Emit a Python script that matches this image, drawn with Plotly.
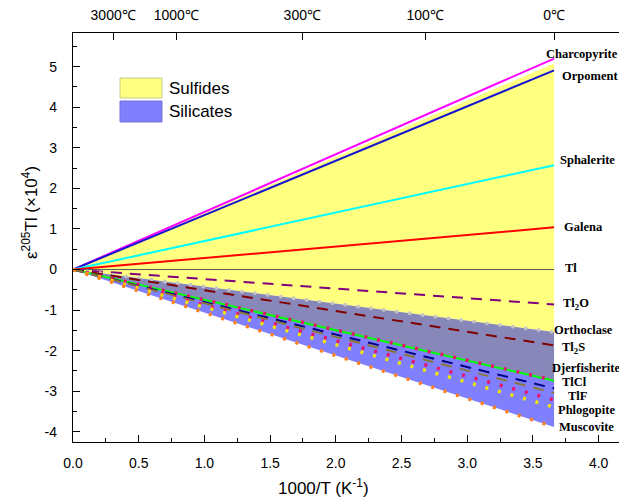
import plotly.graph_objects as go

# ---------------- data ----------------
T0C = 1000 / 273.15  # 1000/T at 0 degC, where every line ends

# line values (epsilon 205Tl x1e4) at 0 degC; every line starts at the origin
line_names = ["Charcopyrite", "Orpoment", "Sphalerite", "Galena", "Tl",
              "Tl2O", "Orthoclase", "Tl2S", "Djerfisherite", "Silicate pink 1",
              "TlCl", "TlF", "Silicate pink 2", "Phlogopite", "Muscovite"]
line_values = [5.20, 4.91, 2.57, 1.04, 0.0,
               -0.86, -1.54, -1.87, -2.74, -2.73,
               -2.93, -3.04, -3.21, -3.39, -3.88]
line_colors = ["#ff00ff", "#1414d2", "#00ffff", "#ff0000", "#555555",
               "#800080", "#c4c4c4", "#800000", "#00ff00", "#e8136f",
               "#000080", "#8a7638", "#e8136f", "#f2e600", "#ff7f1a"]
line_styles = ["solid", "solid", "solid", "solid", "thin",
               "dash", "dot", "dash", "solid", "dot",
               "dash", "dash", "dot", "dot", "dot"]

# shaded ranges at 0 degC
sulfide_top, sulfide_bottom = 5.08, -2.74
silicate_top, silicate_bottom = -1.54, -3.88

# right-hand labels
label_texts = ["Charcopyrite", "Orpoment", "Sphalerite", "Galena", "Tl",
               "Tl<sub>2</sub>O", "Orthoclase", "Tl<sub>2</sub>S", "Djerfisherite",
               "TlCl", "TlF", "Phlogopite", "Muscovite"]
label_y = [5.31, 4.77, 2.70, 1.05, 0.05, -0.86, -1.50, -1.93, -2.42,
           -2.77, -3.11, -3.46, -3.88]
label_x = [3.584, 3.706, 3.689, 3.724, 3.729, 3.712, 3.648, 3.706, 3.630,
           3.706, 3.750, 3.676, 3.686]

# top axis temperatures (degC)
top_temps = [3000, 1000, 300, 100, 0]

y_ticks = [-4, -3, -2, -1, 0, 1, 2, 3, 4, 5]
y_ticktext = ["-4", "-3", "-2", "-1", "0", "1", "2", "3", "4", "5"]

# ---------------- figure ----------------
fig = go.Figure()

def band(y_a, y_b, color):
    fig.add_trace(go.Scatter(
        x=[0, T0C, T0C, 0], y=[0, y_a, y_b, 0], mode="lines",
        fill="toself", fillcolor=color, line=dict(width=0),
        hoverinfo="skip", showlegend=False))

# sulfide-only, overlap, silicate-only
band(sulfide_top, silicate_top, "#ffff80")
band(silicate_top, sulfide_bottom, "#8787b9")
band(sulfide_bottom, silicate_bottom, "#8080ff")

for i in range(len(line_names)):
    st = line_styles[i]
    if st == "solid":
        ln = dict(color=line_colors[i], width=2)
    elif st == "thin":
        ln = dict(color=line_colors[i], width=1)
    elif st == "dash":
        ln = dict(color=line_colors[i], width=2, dash="11px,8px")
    else:
        ln = dict(color=line_colors[i], width=3.5, dash="3px,10px")
    fig.add_trace(go.Scatter(x=[0, T0C], y=[0, line_values[i]], mode="lines",
                             line=ln, name=line_names[i], showlegend=False,
                             hoverinfo="skip"))

# invisible trace to activate the top axis
fig.add_trace(go.Scatter(x=[0], y=[0], xaxis="x2", mode="markers",
                         marker=dict(opacity=0), showlegend=False,
                         hoverinfo="skip"))

annotations = []
for t, xv, yv in zip(label_texts, label_x, label_y):
    annotations.append(dict(x=xv, y=yv, xref="x", yref="y", text=t,
                            showarrow=False, xanchor="left", yanchor="middle",
                            font=dict(family="Liberation Serif", size=12.5,
                                      color="black", weight="bold")))

# page body has an 8px margin: size the figure so it fits the window
OFF = 8
W, H = 619, 489
L, R, T, B = 65, 0, 25, 55
pw, ph = W - L - R, H - T - B

def px(x):
    return (x - OFF - L) / pw

def py(y):
    return (H - B - (y - OFF)) / ph

# manual legend
shapes = [
    dict(type="rect", xref="paper", yref="paper", x0=px(120), x1=px(162),
         y0=py(98), y1=py(78), fillcolor="#ffff80",
         line=dict(color="#c8c890", width=1)),
    dict(type="rect", xref="paper", yref="paper", x0=px(120), x1=px(162),
         y0=py(122), y1=py(101), fillcolor="#8080ff",
         line=dict(color="#7070d8", width=1)),
]
annotations.append(dict(x=px(167), y=py(88), xref="paper", yref="paper",
                        text="Sulfides", showarrow=False, xanchor="left",
                        yanchor="middle",
                        font=dict(family="Liberation Sans", size=17, color="black")))
annotations.append(dict(x=px(167), y=py(111.5), xref="paper", yref="paper",
                        text="Silicates", showarrow=False, xanchor="left",
                        yanchor="middle",
                        font=dict(family="Liberation Sans", size=17, color="black")))
# axis titles
annotations.append(dict(x=px(323), y=py(487), xref="paper", yref="paper",
                        text="1000/T (K<sup>-1</sup>)", showarrow=False,
                        xanchor="center", yanchor="middle",
                        font=dict(family="Liberation Sans", size=17, color="black")))
annotations.append(dict(x=px(30), y=py(212), xref="paper", yref="paper",
                        text="ε<sup>205</sup>Tl (×10<sup>4</sup>)", showarrow=False,
                        xanchor="center", yanchor="middle", textangle=-90,
                        font=dict(family="Liberation Sans", size=17, color="black")))

xmax = 4.216
tick_font = dict(family="Liberation Sans", size=14, color="black")
fig.update_layout(
    width=W, height=H, margin=dict(l=L, r=R, t=T, b=B, pad=0),
    plot_bgcolor="white", paper_bgcolor="white",
    showlegend=False,
    xaxis=dict(range=[0, xmax], tick0=0, dtick=0.5, tickformat=".1f",
               showline=True, linecolor="black", linewidth=1.3,
               ticks="inside", ticklen=7, tickwidth=1.3, tickcolor="black",
               showgrid=False, zeroline=False, tickfont=tick_font,
               ticklabelstandoff=8,
               minor=dict(dtick=0.25, ticks="inside", ticklen=4,
                          tickcolor="black", tickwidth=1.3, showgrid=False)),
    xaxis2=dict(range=[0, xmax], overlaying="x", side="top",
                tickvals=[1000 / (t + 273.15) for t in top_temps],
                ticktext=[f"{t}℃" for t in top_temps],
                showline=True, linecolor="black", linewidth=1.3,
                ticks="inside", ticklen=7, tickwidth=1.3, tickcolor="black",
                showgrid=False, zeroline=False, tickfont=tick_font,
                ticklabelstandoff=6),
    yaxis=dict(range=[-4.25, 5.83], tickvals=y_ticks, ticktext=y_ticktext,
               showline=True, linecolor="black", linewidth=1.3,
               ticks="inside", ticklen=7, tickwidth=1.3, tickcolor="black",
               showgrid=False, zeroline=False, tickfont=tick_font,
               ticklabelstandoff=12,
               minor=dict(dtick=0.5, ticks="inside", ticklen=4,
                          tickcolor="black", tickwidth=1.3, showgrid=False)),
    shapes=shapes,
    annotations=annotations,
)

fig.write_html("out.html")
